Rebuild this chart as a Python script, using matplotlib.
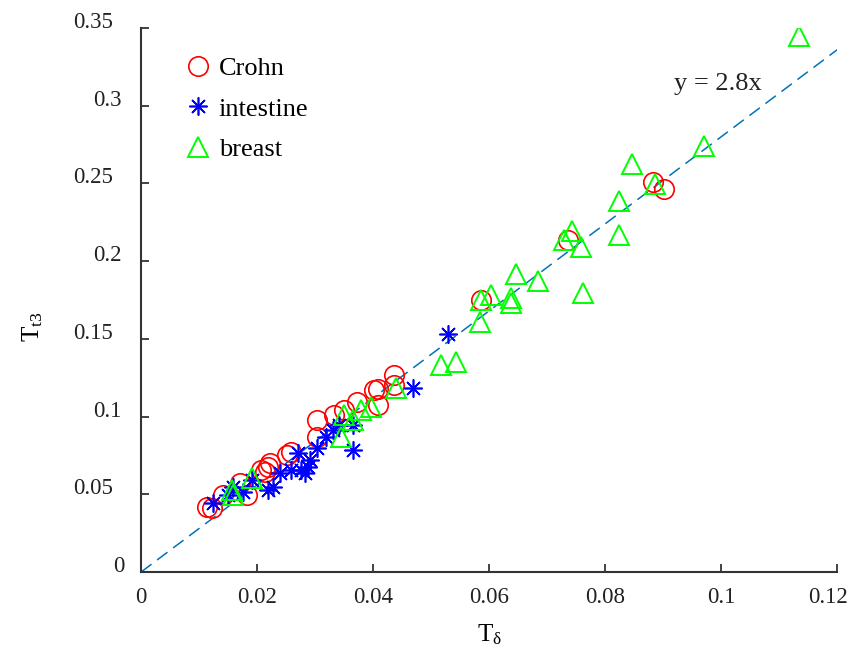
import numpy as np
import matplotlib
matplotlib.use("Agg")
import matplotlib.pyplot as plt
from matplotlib.ticker import FuncFormatter
from matplotlib.transforms import ScaledTranslation

plt.rcParams["font.family"] = ["Liberation Serif", "DejaVu Serif"]
plt.rcParams["mathtext.fontset"] = "custom"
plt.rcParams["mathtext.rm"] = "Liberation Serif"
plt.rcParams["mathtext.it"] = "Liberation Serif:italic"

# Crohn
crohn_x = [0.0114, 0.0123, 0.0142, 0.0171, 0.0183, 0.0206, 0.0218, 0.0223, 0.0213,
           0.0252, 0.0258, 0.0304, 0.0304, 0.0332, 0.0349, 0.0373, 0.0408, 0.0401,
           0.0408, 0.0436, 0.0436, 0.0586, 0.0736, 0.0882, 0.0902]
crohn_y = [0.0419, 0.0412, 0.0496, 0.0573, 0.0496, 0.0657, 0.0677, 0.0702, 0.0644,
           0.0754, 0.0773, 0.0870, 0.0979, 0.1012, 0.1044, 0.1095, 0.1076, 0.1173,
           0.1179, 0.1269, 0.1205, 0.1753, 0.2133, 0.2506, 0.2461]

# intestine
intest_x = [0.0124, 0.0150, 0.0159, 0.0176, 0.0192, 0.0218, 0.0228, 0.0240, 0.0258,
            0.0270, 0.0275, 0.0283, 0.0287, 0.0292, 0.0304, 0.0318, 0.0330, 0.0341,
            0.0365, 0.0365, 0.0468, 0.0529]
intest_y = [0.0445, 0.0496, 0.0548, 0.0515, 0.0593, 0.0528, 0.0548, 0.0638, 0.0657,
            0.0767, 0.0657, 0.0638, 0.0677, 0.0722, 0.0799, 0.0870, 0.0915, 0.0947,
            0.0947, 0.0786, 0.1186, 0.1534]

# breast
breast_x = [0.0157, 0.0159, 0.0192, 0.0344, 0.0349, 0.0365, 0.0379, 0.0396, 0.0439,
            0.0517, 0.0543, 0.0584, 0.0586, 0.0603, 0.0638, 0.0638, 0.0647, 0.0685,
            0.0729, 0.0742, 0.0759, 0.0761, 0.0823, 0.0823, 0.0847, 0.0885, 0.0971,
            0.1134]
breast_y = [0.0528, 0.0496, 0.0606, 0.0870, 0.1012, 0.0979, 0.1044, 0.1063, 0.1186,
            0.1334, 0.1353, 0.1611, 0.1753, 0.1785, 0.1765, 0.1733, 0.1914, 0.1869,
            0.2139, 0.2191, 0.2088, 0.1798, 0.2165, 0.2384, 0.2622, 0.2494, 0.2738,
            0.3447]

slope = 2.8
xticks = [0, 0.02, 0.04, 0.06, 0.08, 0.1, 0.12]
yticks = [0, 0.05, 0.1, 0.15, 0.2, 0.25, 0.3, 0.35]

fig = plt.figure(figsize=(8.5, 6.5), dpi=100)
ax = fig.add_axes([0.166, 0.12, 0.819, 0.837])

fit_x = np.array([0, 0.12])
ax.plot(fit_x, slope * fit_x, "--", color="#0072BD", lw=1.1, dashes=(8.5, 4.6), zorder=1)

ax.plot(crohn_x, crohn_y, "o", mfc="none", mec="red", ms=14, mew=1.2, ls="none", label="Crohn")
ax.plot(intest_x, intest_y, marker=(8, 2, 0), color="blue", mec="blue", ms=13, mew=1.2,
        ls="none", label="intestine")
ax.plot(breast_x, breast_y, "^", mfc="none", mec="#00FF00", ms=15, mew=1.4, ls="none",
        label="breast")

ax.text(0.0918, 0.3138, "y = 2.8x", fontsize=19, va="center", ha="left", color="#222222")

ax.set_xlim(0, 0.12)
ax.set_ylim(0, 0.35)
ax.set_xticks(xticks)
ax.set_yticks(yticks)
fmt = FuncFormatter(lambda v, p: "%g" % round(v, 4))
ax.xaxis.set_major_formatter(fmt)
ax.yaxis.set_major_formatter(fmt)
ax.tick_params(direction="in", length=6, width=1.2, labelsize=16.5, colors="#222222")
ax.tick_params(axis="x", pad=11)
ax.tick_params(axis="y", pad=20)

# MATLAB-like placement of tick labels
for t, v in zip(ax.yaxis.get_major_ticks(), yticks):
    n = len("%g" % v)
    dx = {1: 11, 3: 8}.get(n, 0)
    t.label1.set_transform(t.label1.get_transform() +
                           ScaledTranslation(dx / 100, 8 / 100, fig.dpi_scale_trans))
last = ax.xaxis.get_major_ticks()[-1]
last.label1.set_transform(last.label1.get_transform() +
                          ScaledTranslation(-9 / 100, 0, fig.dpi_scale_trans))

for side in ["top", "right"]:
    ax.spines[side].set_visible(False)
for side in ["left", "bottom"]:
    ax.spines[side].set_linewidth(1.5)
    ax.spines[side].set_color("#333333")

ax.set_xlabel(r"$\mathrm{T}_{\mathrm{δ}}$", fontsize=18)
ax.xaxis.set_label_coords(0.5, -0.092)
ax.set_ylabel(r"$\mathrm{T}_{\mathrm{t3}}$", fontsize=18)
ax.yaxis.set_label_coords(-0.138, 0.45)

ax.legend(loc="upper left", bbox_to_anchor=(0.048, 0.967), frameon=False, fontsize=19,
          handlelength=1.0, handletextpad=0.27, labelspacing=0.65, borderaxespad=0)

fig.savefig("out.png", dpi=100)
